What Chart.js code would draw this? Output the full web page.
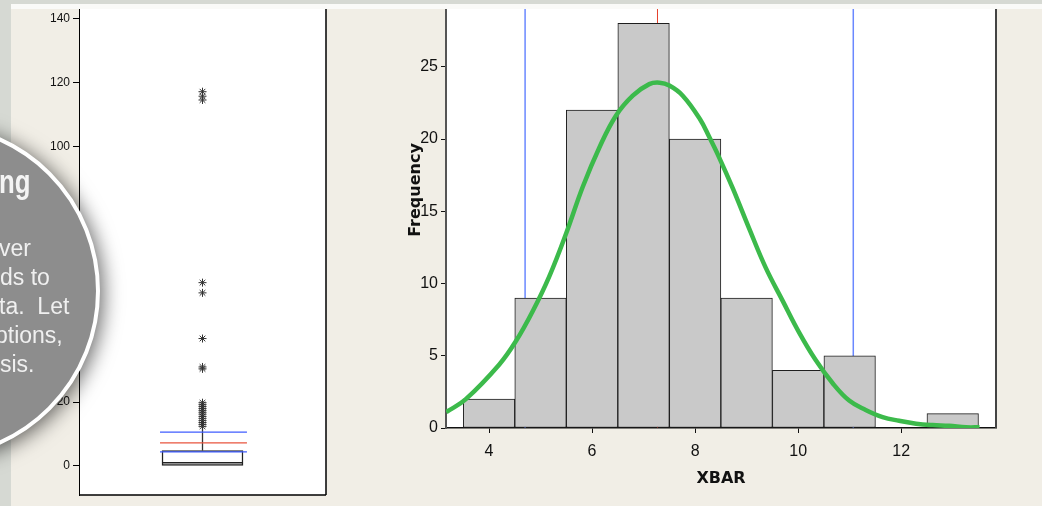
<!DOCTYPE html>
<html>
<head>
<meta charset="utf-8">
<script src="https://cdn.jsdelivr.net/npm/chart.js@4.4.0/dist/chart.umd.min.js"></script>
<style>
  html, body { margin: 0; padding: 0; width: 1042px; height: 506px; overflow: hidden; background: #d6d9d3; }
  #slide { position: absolute; left: 11px; top: 9px; right: 0; bottom: 0; background: #f1eee6; }
  #topline { position: absolute; left: 11px; top: 4px; right: 0; height: 5px; background: #fafaf8; }
  canvas { position: absolute; }
  #boxCanvas { left: 11px; top: 9px; }
  #histCanvas { left: 380px; top: 9px; }
  #bubble {
    position: absolute; left: -236px; top: 123px; width: 336px; height: 336px;
    border-radius: 50%; background: #8d8d8d; border: 4px solid #fff; box-sizing: border-box;
    box-shadow: 3px 3px 20px rgba(0, 0, 0, 0.6);
  }
  .bubble-title {
    position: absolute; left: -1px; top: 165px; color: #f4f4f4;
    font-family: "Liberation Sans Narrow", "Liberation Sans", sans-serif;
    font-weight: bold; font-size: 33px; line-height: 33px;
    transform: scaleX(0.78); transform-origin: left top;
  }
  .bubble-text {
    position: absolute; left: 0; top: 234px; color: #f0f0f0;
    font-family: "Liberation Sans", Arial, sans-serif; font-size: 23px; line-height: 29px;
    white-space: pre;
  }
  .bubble-text span { display: block; }
</style>
</head>
<body>
<div id="topline"></div>
<div id="slide"></div>
<canvas id="boxCanvas" width="316" height="497"></canvas>
<canvas id="histCanvas" width="617" height="497"></canvas>
<div id="bubble"></div>
<div class="bubble-title">ng</div>
<div class="bubble-text"><span style="margin-left:-1px">ver</span><span>ds to</span><span style="margin-left:-1px">ta.  Let</span><span style="margin-left:-5px">ptions,</span><span>sis.</span></div>

<script>
// --- left panel: boxplot ---
const boxTicks = [0, 20, 40, 60, 80, 100, 120, 140];
const boxQuartiles = [0, 4.8];        // Q1, Q3
const boxMedian = [1.0];
const boxWhisker = [4.8, 11.8];       // from Q3 up to upper whisker
const boxOutliers = [117.2, 115.8, 114.6, 57.4, 54.2, 39.9, 31.0, 30.4,
  19.8, 19.2, 18.6, 18.0, 17.4, 16.8, 16.2, 15.5, 14.9, 14.2, 13.6, 13.0, 12.4];
const boxBlueLines = [4.4, 10.6];
const boxRedLines = [7.2];

// --- right panel: histogram of XBAR ---
const binCenters = [4, 5, 6, 7, 8, 9, 10, 11, 12, 13];
const frequencies = [2, 9, 22, 28, 20, 9, 4, 5, 0, 1];
const xTicks = [4, 6, 8, 10, 12];
const yTicks = [0, 5, 10, 15, 20, 25];
const curveX = [3.17, 3.55, 4.2, 4.52, 4.85, 5.17, 5.5, 5.82, 6.14, 6.46, 6.79, 7.11, 7.31, 7.5,
  7.76, 8.09, 8.28, 8.47, 8.73, 9.05, 9.37, 9.7, 10.02, 10.34, 10.67, 10.99, 11.31, 11.64,
  11.96, 12.29, 12.61, 12.93, 13.26, 13.52];
const curveY = [1.1, 2.0, 4.4, 6.0, 8.1, 10.5, 13.5, 16.7, 19.4, 21.6, 23.0, 23.8, 23.9, 23.7,
  23.0, 21.4, 20.1, 18.7, 16.6, 13.8, 11.1, 8.8, 6.6, 4.7, 3.1, 1.9, 1.25, 0.75,
  0.5, 0.3, 0.2, 0.15, 0.05, 0.05];
const specLines = [4.70, 11.07];
const meanLines = [7.27];

const BLUE = '#6a88ff';
const RED = '#e5402c';

// chart.js reserves half a label above/below the axis, we want the area flush
function noScalePadding(s) {
    s.paddingTop = 0;
    s.paddingBottom = 0;
    s.paddingLeft = 0;
    s.paddingRight = 0;
}

// white plot area + frame on the chart area
function framePlugin(color, width, sides) {
    return {
        id: 'frame',
        beforeDraw(chart) {
            const { ctx, chartArea: a } = chart;
            ctx.save();
            ctx.fillStyle = '#ffffff';
            ctx.fillRect(a.left, a.top, a.right - a.left, a.bottom - a.top);
            ctx.restore();
        },
        afterDraw(chart) {
            const { ctx, chartArea: a } = chart;
            ctx.save();
            ctx.strokeStyle = color;
            ctx.lineWidth = width;
            ctx.beginPath();
            if (sides.includes('right')) { ctx.moveTo(a.right, a.top); ctx.lineTo(a.right, a.bottom); }
            if (sides.includes('bottom')) { ctx.moveTo(a.left, a.bottom); ctx.lineTo(a.right, a.bottom); }
            ctx.stroke();
            ctx.restore();
        }
    };
}

function hLine(y, x0, x1, color, width) {
    return {
        type: 'line',
        data: [{ x: x0, y: y }, { x: x1, y: y }],
        borderColor: color,
        borderWidth: width,
        pointRadius: 0
    };
}

function drawBoxplot() {
    const ctx = document.getElementById('boxCanvas').getContext('2d');
    const boxL = 0.336, boxR = 0.664, lineL = 0.328, lineR = 0.68;

    const datasets = [
        ...boxBlueLines.map(v => hLine(v, lineL, lineR, '#3f5cff', 1.3)),
        ...boxRedLines.map(v => hLine(v, lineL, lineR, '#e8553e', 1.3)),
        hLine(boxMedian[0], boxL, boxR, '#222', 1.5),
        {
            type: 'line',
            data: boxWhisker.map(v => ({ x: 0.5, y: v })),
            borderColor: '#333',
            borderWidth: 1.3,
            pointRadius: 0
        },
        {
            type: 'scatter',
            data: boxOutliers.map(v => ({ x: 0.5, y: v })),
            pointStyle: 'star',
            pointRadius: 4,
            borderColor: '#333',
            borderWidth: 1
        },
        {
            type: 'bar',
            data: [{ x: 0.5, y: boxQuartiles }],
            backgroundColor: '#ffffff',
            borderColor: '#222',
            borderWidth: 1.5,
            borderSkipped: false,
            barThickness: 81,
            order: 10
        }
    ];

    new Chart(ctx, {
        type: 'bar',
        data: { datasets },
        options: {
            responsive: false,
            animation: false,
            devicePixelRatio: 1,
            layout: { autoPadding: false, padding: { top: 0, right: 1, bottom: 11, left: 0 } },
            plugins: { legend: { display: false }, tooltip: { enabled: false } },
            scales: {
                x: { type: 'linear', display: false, offset: false, min: 0, max: 1 },
                y: {
                    min: -9.1,
                    max: 143.1,
                    afterBuildTicks: s => { s.ticks = boxTicks.map(v => ({ value: v })); },
                    afterFit: s => { s.width = 68; noScalePadding(s); },
                    grid: { drawOnChartArea: false, tickLength: 6, color: '#000' },
                    border: { color: '#000', width: 1 },
                    ticks: { padding: 3, color: '#111', font: { family: 'Liberation Sans', size: 12 } }
                }
            }
        },
        plugins: [framePlugin('#000', 1.5, ['right', 'bottom'])]
    });
}

// vertical reference lines behind the bars
const refLinesPlugin = {
    id: 'refLines',
    beforeDatasetsDraw(chart) {
        const { ctx, chartArea: a, scales: { x } } = chart;
        ctx.save();
        const draw = (v, color, w) => {
            const px = x.getPixelForValue(v);
            ctx.strokeStyle = color;
            ctx.lineWidth = w;
            ctx.beginPath();
            ctx.moveTo(px, a.top);
            ctx.lineTo(px, a.bottom);
            ctx.stroke();
        };
        specLines.forEach(v => draw(v, BLUE, 1.5));
        meanLines.forEach(v => draw(v, RED, 1));
        ctx.restore();
    }
};

// y title sits higher than chart.js would center it, so draw it by hand
const freqTitlePlugin = {
    id: 'freqTitle',
    afterDraw(chart) {
        const ctx = chart.ctx;
        ctx.save();
        ctx.translate(36, 181);
        ctx.rotate(-Math.PI / 2);
        ctx.font = 'bold 16px "DejaVu Sans"';
        ctx.fillStyle = '#111';
        ctx.textAlign = 'center';
        ctx.textBaseline = 'middle';
        ctx.fillText('Frequency', 0, 0);
        ctx.restore();
    }
};

function drawHistogram() {
    const ctx = document.getElementById('histCanvas').getContext('2d');
    new Chart(ctx, {
        type: 'bar',
        data: {
            datasets: [
                {
                    type: 'line',
                    data: curveX.map((x, i) => ({ x: x, y: curveY[i] })),
                    borderColor: '#3cba4b',
                    borderWidth: 4.5,
                    pointRadius: 0,
                    tension: 0.4,
                    order: 0
                },
                {
                    type: 'bar',
                    data: binCenters.map((x, i) => ({ x: x, y: frequencies[i] })),
                    backgroundColor: '#c9c9c9',
                    borderColor: '#1e1e1e',
                    borderWidth: 1,
                    borderSkipped: false,
                    barPercentage: 1,
                    categoryPercentage: 1,
                    order: 1
                }
            ]
        },
        options: {
            responsive: false,
            animation: false,
            devicePixelRatio: 1,
            layout: { autoPadding: false, padding: { top: 0, right: 1, bottom: 0, left: 0 } },
            plugins: { legend: { display: false }, tooltip: { enabled: false } },
            scales: {
                x: {
                    type: 'linear',
                    offset: false,
                    min: 3.165,
                    max: 13.84,
                    afterBuildTicks: s => { s.ticks = xTicks.map(v => ({ value: v })); },
                    afterFit: s => { s.height = 78; noScalePadding(s); },
                    grid: { offset: false, drawOnChartArea: false, tickLength: 5, color: '#111' },
                    border: { color: '#111', width: 1.5 },
                    ticks: { padding: 9, color: '#111', font: { family: 'Liberation Sans', size: 16 } },
                    title: {
                        display: true,
                        text: 'XBAR',
                        color: '#111',
                        font: { family: 'DejaVu Sans', size: 16, weight: 'bold' },
                        padding: { top: 0, bottom: 18 }
                    }
                },
                y: {
                    min: 0,
                    max: 29,
                    afterBuildTicks: s => { s.ticks = yTicks.map(v => ({ value: v })); },
                    afterFit: s => { s.width = 66; noScalePadding(s); },
                    grid: { drawOnChartArea: false, tickLength: 5, color: '#111' },
                    border: { color: '#555', width: 2 },
                    ticks: { padding: 3, color: '#111', font: { family: 'Liberation Sans', size: 16 } }
                }
            }
        },
        plugins: [framePlugin('#444', 2, ['right']), refLinesPlugin, freqTitlePlugin]
    });
}

drawBoxplot();
drawHistogram();
</script>
</body>
</html>
